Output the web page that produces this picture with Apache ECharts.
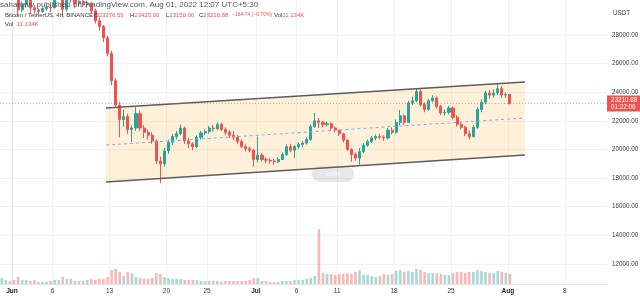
<!DOCTYPE html>
<html><head><meta charset="utf-8">
<script src="https://cdn.jsdelivr.net/npm/echarts@6/dist/echarts.min.js"></script>
<style>html,body{margin:0;padding:0;background:#fff}#c{width:640px;height:297px}</style>
</head><body><div id="c"></div>
<script>
// ---- data (12h candles); x in days since 2022-06-01 00:00 ----
const candleStartDay = -1.5;   // first 12h candle opens 2022-05-30 12:00
const candleDays = 0.5;
const opens = [
31600,31750,31900,31700,31200,29750,30150,30450,29900,29750,
29650,29850,29950,29900,31300,31350,29800,31100,30500,30200,
30350,30100,30200,29700,29000,28600,27800,26700,24800,23100,
22100,22300,21400,21500,22500,21500,21200,21000,20600,19200,
19000,19900,20500,20900,21100,21500,20600,20400,20200,20850,
21150,21250,21500,21450,21750,21400,21200,21000,20850,20550,
20200,20050,19950,19300,19600,19300,19250,19200,19150,19300,
19650,20200,19950,20200,20350,20450,20700,21600,22000,21900,
21750,21800,21500,21350,21100,20650,20000,19650,19400,19850,
20300,20550,20800,20900,20850,20800,21350,21200,21900,22350,
21900,23250,23400,24050,23150,22800,23400,23600,23000,22550,
22600,22900,22250,21750,21550,21100,20900,21550,22800,23300,
23950,23800,23950,24250,23800,23850];
const closes = [
31750,31900,31700,31200,29750,30150,30450,29900,29750,29650,
29850,29950,29900,31300,31350,29800,31100,30500,30200,30350,
30100,30200,29700,29000,28600,27800,26700,24800,23100,22100,
22300,21400,21500,22500,21500,21200,21000,20600,19200,19000,
19900,20500,20900,21100,21500,20600,20400,20200,20850,21150,
21250,21500,21450,21750,21400,21200,21000,20850,20550,20200,
20050,19950,19300,19600,19300,19250,19200,19150,19300,19650,
20200,19950,20200,20350,20450,20700,21600,22000,21900,21750,
21800,21500,21350,21100,20650,20000,19650,19400,19850,20300,
20550,20800,20900,20850,20800,21350,21200,21900,22350,21900,
23250,23400,24050,23150,22800,23400,23600,23000,22550,22600,
22900,22250,21750,21550,21100,20900,21550,22800,23300,23950,
23800,23950,24250,23800,23850,23210.88];
const lows = [
31300,31500,31400,30900,29300,29600,29900,29550,29500,29450,
29550,29700,29600,29850,31100,29250,29650,30300,29900,30000,
29950,29900,29500,28800,28300,27500,26500,24500,22900,20850,
21600,21100,20500,21300,21300,20800,20700,20400,19000,17650,
18800,19700,20300,20700,21000,20400,20100,19950,20100,20700,
21000,21100,21250,21350,21300,21000,20800,20650,20400,20100,
19850,19800,18800,19100,19150,19050,19000,18950,19050,19250,
19550,19800,19400,20050,20150,20350,20600,21500,21500,21550,
21600,21300,21200,20950,20500,19900,19150,19200,18950,19750,
20200,20450,20650,20700,20600,20700,21050,21100,21700,21700,
21850,23100,23300,23000,22600,22700,23300,22850,22400,22350,
22450,22100,21600,21400,20950,20700,20850,21450,22600,23150,
23550,23600,23800,23600,23600,23150];
const highs = [
32100,32300,32200,31950,31350,30350,30650,30650,30100,29850,
29950,30100,30150,31600,31750,31450,31400,31300,30700,30650,
30500,30400,30300,29850,29200,28700,27950,26900,25000,23300,
22800,22500,21700,22950,22700,21700,21400,21200,20700,19500,
20100,20700,21100,21300,21750,21600,20800,20500,21000,21300,
21400,21650,21700,21900,21850,21550,21350,21300,21000,20700,
20350,20200,20050,20900,19750,19450,19400,19350,19450,19800,
20350,20400,20300,20500,20600,20850,21750,22550,22200,22000,
21950,21900,21600,21400,21150,20700,20100,19800,20100,20450,
20700,20950,21050,21100,21000,21500,21550,22100,22750,22450,
23400,23700,24250,24200,23300,23550,23800,23700,23100,22800,
23050,23000,22400,21900,21650,21300,21700,22950,23500,24100,
24150,24200,24650,24450,24000,23900];
const volumes = [ // thousand BTC per 12h
20,13,10,13,23,13,13,10,13,7,
7,7,10,13,13,23,17,17,10,10,
10,13,17,13,17,17,23,46,50,40,
26,40,36,23,20,17,17,20,36,33,
23,20,17,17,17,13,13,13,13,10,
10,10,10,10,7,10,10,10,10,10,
10,13,20,20,10,10,7,7,7,10,
10,10,13,13,13,17,20,26,180,36,
33,33,30,33,33,36,33,40,46,30,
30,26,23,26,33,30,33,43,46,40,
43,40,50,46,40,36,36,36,33,30,
30,36,40,40,36,40,40,46,43,40,
36,36,43,40,36,33];
const tickDays = [0, 5, 12, 19, 24, 30, 35, 40, 47, 54, 61, 68];   // Jun 1 ... Aug 8
const tickLabels = ['Jun','6','13','20','25','Jul','6','11','18','25','Aug','8'];
const priceTicks = [12000,14000,16000,18000,20000,22000,24000,26000,28000];
const lastPrice = 23210.88;
const countdown = '01:22:06';
const channelDays = [11.56, 63.1];
const channelUpper = [22900, 24720];
const channelLower = [17730, 19620];
const channelMid = [20310, 22200];

// ---- build ----
const UP = '#26a69a', DOWN = '#ef5350';
const xs = opens.map((_, i) => candleStartDay + i * candleDays + candleDays / 2);
const candleData = xs.map((t, i) => [t, opens[i], closes[i], lows[i], highs[i]]);
const volData = xs.map((t, i) => ({
  value: [t, volumes[i]],
  itemStyle: { color: closes[i] >= opens[i] ? 'rgba(38,166,154,0.42)' : 'rgba(239,83,80,0.42)' }
}));
const FONT = '"Liberation Sans", Arial, sans-serif';
const f6 = '6px ' + FONT;
function pair(k, v) {
  return { text: '{k|' + k + '}{v|' + v + '}', font: f6,
    rich: { k: { fill: '#333', font: f6 }, v: { fill: '#ef5350', font: f6 } } };
}

const chart = echarts.init(document.getElementById('c'), null, { renderer: 'canvas', width: 640, height: 297 });
chart.setOption({
  animation: false,
  backgroundColor: '#ffffff',
  textStyle: { fontFamily: FONT },
  grid: { left: 0, right: 33, top: 0, bottom: 13, containLabel: false, outerBoundsMode: 'none' },
  xAxis: {
    type: 'value', min: -1.476, max: 73.19,
    axisLine: { show: true, lineStyle: { color: '#e0e3eb' } },
    axisTick: { show: false, customValues: tickDays },
    axisLabel: {
      customValues: tickDays,
      formatter: v => { const k = tickDays.indexOf(+v); const s = tickLabels[k] || ''; return isNaN(+s) ? '{b|' + s + '}' : s; },
      fontSize: 6.5, color: '#3a3a3a', margin: 4, fontFamily: FONT,
      rich: { b: { fontWeight: 'bold', fontSize: 6.5, color: '#222', fontFamily: FONT } }
    },
    splitLine: { show: true, lineStyle: { color: '#f0f2f6', width: 1 } }
  },
  yAxis: [{
    type: 'value', position: 'right', min: 10602, max: 30445,
    axisLine: { show: true, lineStyle: { color: '#e0e3eb' } },
    axisTick: { show: false, customValues: priceTicks },
    axisLabel: { customValues: priceTicks, formatter: v => Number(v).toFixed(2), fontSize: 6.3, color: '#3a3a3a', margin: 5, fontFamily: FONT },
    splitLine: { show: true, lineStyle: { color: '#f0f2f6', width: 1 } }
  }, {
    type: 'value', min: 0, max: 937, show: false, splitLine: { show: false }
  }],
  series: [
    {
      type: 'custom', silent: true, z: 1,
      data: [[channelDays[0], channelUpper[0]]],
      renderItem: (params, api) => {
        const a = api.coord([channelDays[0], channelUpper[0]]);
        const b = api.coord([channelDays[1], channelUpper[1]]);
        const c = api.coord([channelDays[1], channelLower[1]]);
        const d = api.coord([channelDays[0], channelLower[0]]);
        return { type: 'polygon', shape: { points: [a, b, c, d] }, style: { fill: 'rgba(255,196,96,0.24)' } };
      }
    },
    { type: 'bar', yAxisIndex: 1, data: volData, barWidth: 2.6, z: 2, silent: true },
    {
      type: 'candlestick', data: candleData, barWidth: 2.6, z: 3,
      itemStyle: { color: UP, color0: DOWN, borderColor: UP, borderColor0: DOWN, borderWidth: 1 },
      markLine: {
        silent: true, symbol: ['none', 'none'],
        data: [{ yAxis: lastPrice }],
        lineStyle: { color: 'rgba(239,83,80,0.55)', type: [1, 2], width: 1 },
        label: {
          show: true, position: 'end', distance: 0,
          formatter: lastPrice.toFixed(2) + '\n' + countdown,
          backgroundColor: '#ef5350', color: '#ffffff', fontSize: 6.3, lineHeight: 7.5,
          padding: [1, 3, 0, 4], fontFamily: FONT, opacity: 1
        }
      }
    },
    { type: 'line', data: [[channelDays[0], channelUpper[0]], [channelDays[1], channelUpper[1]]], symbol: 'none', z: 4, silent: true,
      lineStyle: { color: '#5d5d5d', width: 1.5 } },
    { type: 'line', data: [[channelDays[0], channelLower[0]], [channelDays[1], channelLower[1]]], symbol: 'none', z: 4, silent: true,
      lineStyle: { color: '#5d5d5d', width: 1.5 } },
    { type: 'line', data: [[channelDays[0], channelMid[0]], [channelDays[1], channelMid[1]]], symbol: 'none', z: 4, silent: true,
      lineStyle: { color: '#8aa6ee', width: 1, type: [3, 3] } }
  ],
  graphic: [
    { type: 'text', left: 0, top: 1, z: 100, style: { text: 'sahanavv published on TradingView.com, Aug 01, 2022 12:07 UTC+5:30', font: '8px ' + FONT, fill: '#555' } },
    { type: 'text', left: 5, top: 12, z: 100, style: { text: 'Bitcoin / TetherUS, 4h, BINANCE', font: f6, fill: '#333' } },
    { type: 'text', left: 94, top: 12, z: 100, style: pair('O', '23376.59') },
    { type: 'text', left: 130, top: 12, z: 100, style: pair('H', '23425.00') },
    { type: 'text', left: 166, top: 12, z: 100, style: pair('L', '23150.00') },
    { type: 'text', left: 199, top: 12, z: 100, style: pair('C', '23210.88') },
    { type: 'text', left: 232, top: 12.5, z: 100, style: { text: '−164.74 (−0.70%)', font: '5px ' + FONT, fill: '#ef5350' } },
    { type: 'text', left: 274, top: 12, z: 100, style: pair('Vol', '11.134K') },
    { type: 'text', left: 5, top: 21, z: 100, style: pair('Vol', '  11.134K') },
    { type: 'text', left: 613, top: 10, z: 100, style: { text: 'USDT', font: '6.3px ' + FONT, fill: '#3a3a3a' } },
    { type: 'rect', left: 312, top: 166, z: 100, shape: { width: 42, height: 16, r: 8 }, style: { fill: 'rgba(120,123,134,0.18)' } },
    { type: 'text', left: 325, top: 171, z: 101, style: { text: '120%', font: f6, fill: 'rgba(255,255,255,0.75)' } }
  ]
});
</script>
</body></html>
